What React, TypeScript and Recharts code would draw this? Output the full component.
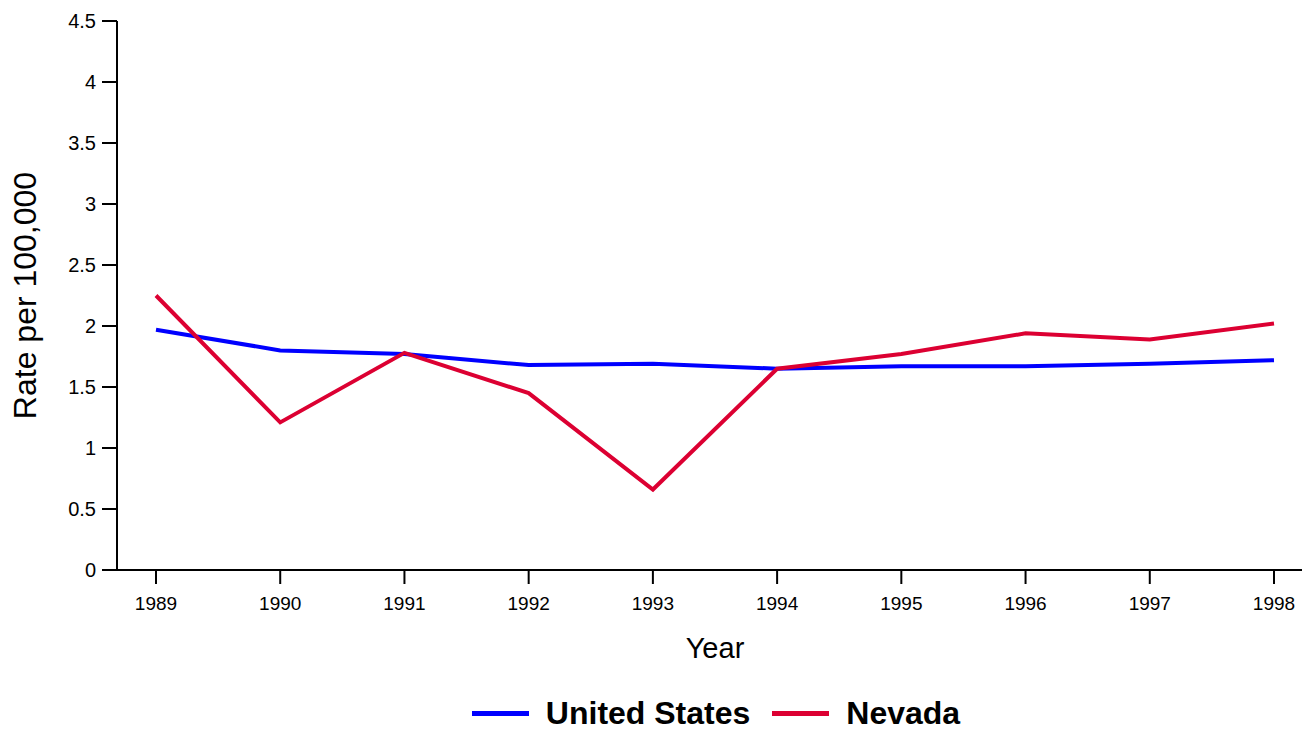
import { LineChart, Line, XAxis, YAxis, Legend, Label } from 'recharts';

const years = ['1989', '1990', '1991', '1992', '1993', '1994', '1995', '1996', '1997', '1998'];
const unitedStates = [1.97, 1.8, 1.77, 1.68, 1.69, 1.65, 1.67, 1.67, 1.69, 1.72];
const nevada = [2.25, 1.21, 1.78, 1.45, 0.66, 1.65, 1.77, 1.94, 1.89, 2.02];
const yTicks = [0, 0.5, 1, 1.5, 2, 2.5, 3, 3.5, 4, 4.5];

const series = [
  { key: 'us', name: 'United States', color: '#0000FF' },
  { key: 'nv', name: 'Nevada', color: '#DC0032' },
];

const data = years.map((year, i) => ({
  year,
  us: unitedStates[i],
  nv: nevada[i],
}));

const font = '"Liberation Sans", Arial, sans-serif';

function LegendRow() {
  return (
    <div
      style={{
        display: 'flex',
        justifyContent: 'center',
        alignItems: 'center',
        paddingLeft: 130,
        paddingTop: 18,
        height: 32,
        fontFamily: font,
      }}
    >
      {series.map((s) => (
        <div key={s.key} style={{ display: 'flex', alignItems: 'center', margin: '0 11px' }}>
          <div style={{ width: 57, height: 5, background: s.color, marginRight: 17 }} />
          <span style={{ fontSize: 32, fontWeight: 'bold', color: '#000' }}>{s.name}</span>
        </div>
      ))}
    </div>
  );
}

export default function App() {
  return (
    <div style={{ position: 'absolute', left: 0, top: 0, background: '#fff' }}>
      <LineChart
        width={1303}
        height={729}
        data={data}
        margin={{ top: 21, right: 1, left: 0, bottom: 0 }}
        style={{ fontFamily: font }}
      >
        <XAxis
          dataKey="year"
          padding={{ left: 39, right: 28 }}
          height={109}
          tickSize={14}
          tickMargin={13}
          axisLine={{ stroke: '#000', strokeWidth: 2 }}
          tickLine={{ stroke: '#000', strokeWidth: 2 }}
          tick={{ fill: '#000', fontSize: 19 }}
        >
          <Label
            content={({ viewBox }: any) => (
              <text
                x={viewBox.x + 39 + (viewBox.width - 67) / 2}
                y={viewBox.y + 88}
                textAnchor="middle"
                fontSize={29}
                fill="#000"
              >
                Year
              </text>
            )}
          />
        </XAxis>
        <YAxis
          domain={[0, 4.5]}
          ticks={yTicks}
          width={117}
          tickSize={15}
          tickMargin={6}
          axisLine={{ stroke: '#000', strokeWidth: 2 }}
          tickLine={{ stroke: '#000', strokeWidth: 2 }}
          tick={{ fill: '#000', fontSize: 20 }}
        >
          <Label
            content={({ viewBox }: any) => {
              const cy = viewBox.y + viewBox.height / 2;
              return (
                <text
                  x={36}
                  y={cy}
                  transform={`rotate(-90, 36, ${cy})`}
                  textAnchor="middle"
                  fontSize={32}
                  fill="#000"
                >
                  Rate per 100,000
                </text>
              );
            }}
          />
        </YAxis>
        <Legend verticalAlign="bottom" content={() => <LegendRow />} />
        {series.map((s) => (
          <Line
            key={s.key}
            dataKey={s.key}
            name={s.name}
            stroke={s.color}
            strokeWidth={4}
            dot={false}
            activeDot={false}
            isAnimationActive={false}
          />
        ))}
      </LineChart>
    </div>
  );
}
